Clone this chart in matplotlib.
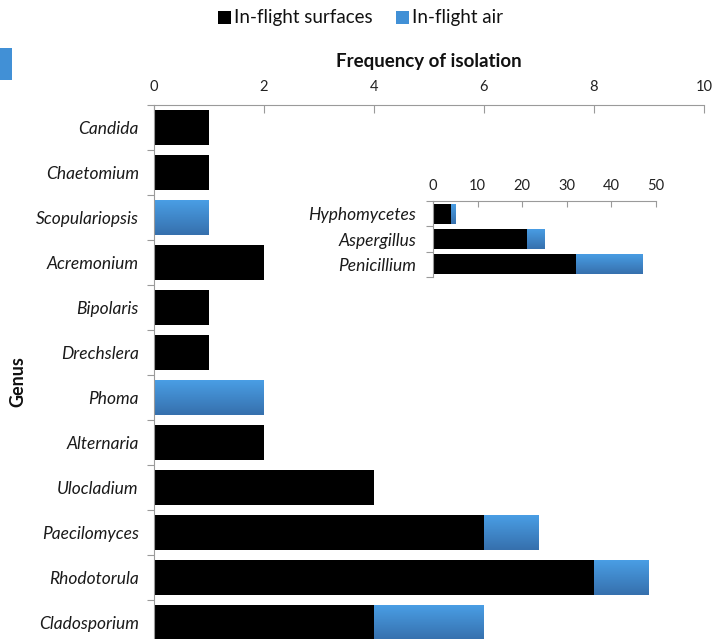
import matplotlib
matplotlib.use("Agg")
import matplotlib.pyplot as plt
import numpy as np
from matplotlib.colors import LinearSegmentedColormap
from matplotlib.patches import Rectangle

plt.rcParams['font.family'] = ['Lato', 'DejaVu Sans']

genera = ["Candida", "Chaetomium", "Scopulariopsis", "Acremonium", "Bipolaris",
          "Drechslera", "Phoma", "Alternaria", "Ulocladium", "Paecilomyces",
          "Rhodotorula", "Cladosporium"]
surfaces = [1, 1, 0, 2, 1, 1, 0, 2, 4, 6, 8, 4]
air = [0, 0, 1, 0, 0, 0, 2, 0, 0, 1, 1, 2]
main_ticks = [0, 2, 4, 6, 8, 10]

inset_genera = ["Hyphomycetes", "Aspergillus", "Penicillium"]
inset_surfaces = [4, 21, 32]
inset_air = [1, 4, 15]
inset_ticks = [0, 10, 20, 30, 40, 50]

BLACK = "#000000"
BLUE = "#4190d6"
blue_grad = LinearSegmentedColormap.from_list("bg", ["#4a9fe6", "#3670ad"])
grad = np.linspace(0, 1, 64).reshape(-1, 1)


def shade(ax, patches):
    # vertical gradient fill, lighter at the top of each bar
    for p in patches:
        w = p.get_width()
        if w <= 0:
            continue
        x0, y0, h = p.get_x(), p.get_y(), p.get_height()
        im = ax.imshow(grad, cmap=blue_grad, aspect="auto", interpolation="bilinear",
                       extent=(x0, x0 + w, y0 + h, y0), zorder=p.get_zorder() + 0.1)
        im.set_clip_path(p)


def style_axes(ax, labels, ticks, fs_lab, fs_tick, tick_len, pad):
    ax.xaxis.tick_top()
    ax.set_xticks(ticks)
    ax.tick_params(axis="x", direction="in", length=tick_len, width=0.8,
                   color="#9a9a9a", labelsize=fs_tick, labelcolor="#222222", pad=8)
    n = len(labels)
    ax.set_yticks(np.arange(n))
    ax.set_yticklabels(labels, fontstyle="italic", fontsize=fs_lab, color="#1a1a1a")
    ax.set_yticks(np.arange(n + 1) - 0.5, minor=True)
    ax.tick_params(axis="y", which="major", length=0, pad=pad)
    ax.tick_params(axis="y", which="minor", length=5, width=0.8, color="#9a9a9a",
                   direction="out")
    for s in ("right", "bottom"):
        ax.spines[s].set_visible(False)
    for s in ("top", "left"):
        ax.spines[s].set_color("#9a9a9a")
        ax.spines[s].set_linewidth(0.8)
    ax.set_ylim(n - 0.5, -0.5)
    ax.set_facecolor("none")


fig = plt.figure(figsize=(7.19, 6.39), dpi=100)

# main chart
ax = fig.add_axes([154 / 719, 1 - 645 / 639, 550 / 719, 540 / 639])
y = np.arange(len(genera))
ax.barh(y, surfaces, height=0.78, color=BLACK, zorder=2)
b2 = ax.barh(y, air, left=surfaces, height=0.78, color=BLUE, zorder=2)
shade(ax, b2.patches)
ax.set_xlim(0, 10)
style_axes(ax, genera, main_ticks, 12.5, 10.5, 6, 11)
ax.set_xlabel("Frequency of isolation", fontsize=13.5, fontweight="bold",
              color="#111111", labelpad=9)
ax.xaxis.set_label_position("top")

fig.text(18 / 719, 1 - 382 / 639, "Genus", rotation=90, fontsize=13,
         fontweight="bold", ha="center", va="center", color="#111111")

# inset chart
ax2 = fig.add_axes([433 / 719, 1 - 277 / 639, 223 / 719, 76 / 639])
yi = np.arange(len(inset_genera))
ax2.barh(yi, inset_surfaces, height=0.8, color=BLACK, zorder=2)
c2 = ax2.barh(yi, inset_air, left=inset_surfaces, height=0.8, color=BLUE, zorder=2)
shade(ax2, c2.patches)
ax2.set_xlim(0, 50)
style_axes(ax2, inset_genera, inset_ticks, 12.5, 10.5, 4, 12)
ax2.tick_params(axis="x", pad=6)

# legend
fig.patches.append(Rectangle((218 / 719, 1 - 24 / 639), 13 / 719, 13 / 639,
                             transform=fig.transFigure, facecolor=BLACK,
                             edgecolor="none"))
fig.text(234 / 719, 1 - 17 / 639, "In-flight surfaces", fontsize=13.5,
         va="center", ha="left", color="#111111")
fig.patches.append(Rectangle((396 / 719, 1 - 24 / 639), 13 / 719, 13 / 639,
                             transform=fig.transFigure, facecolor=BLUE,
                             edgecolor="none"))
fig.text(412 / 719, 1 - 17 / 639, "In-flight air", fontsize=13.5,
         va="center", ha="left", color="#111111")

# stray swatch at the left edge
fig.patches.append(Rectangle((0, 1 - 80 / 639), 12 / 719, 32 / 639,
                             transform=fig.transFigure, facecolor=BLUE,
                             edgecolor="none"))

fig.savefig("out.png", dpi=100)
